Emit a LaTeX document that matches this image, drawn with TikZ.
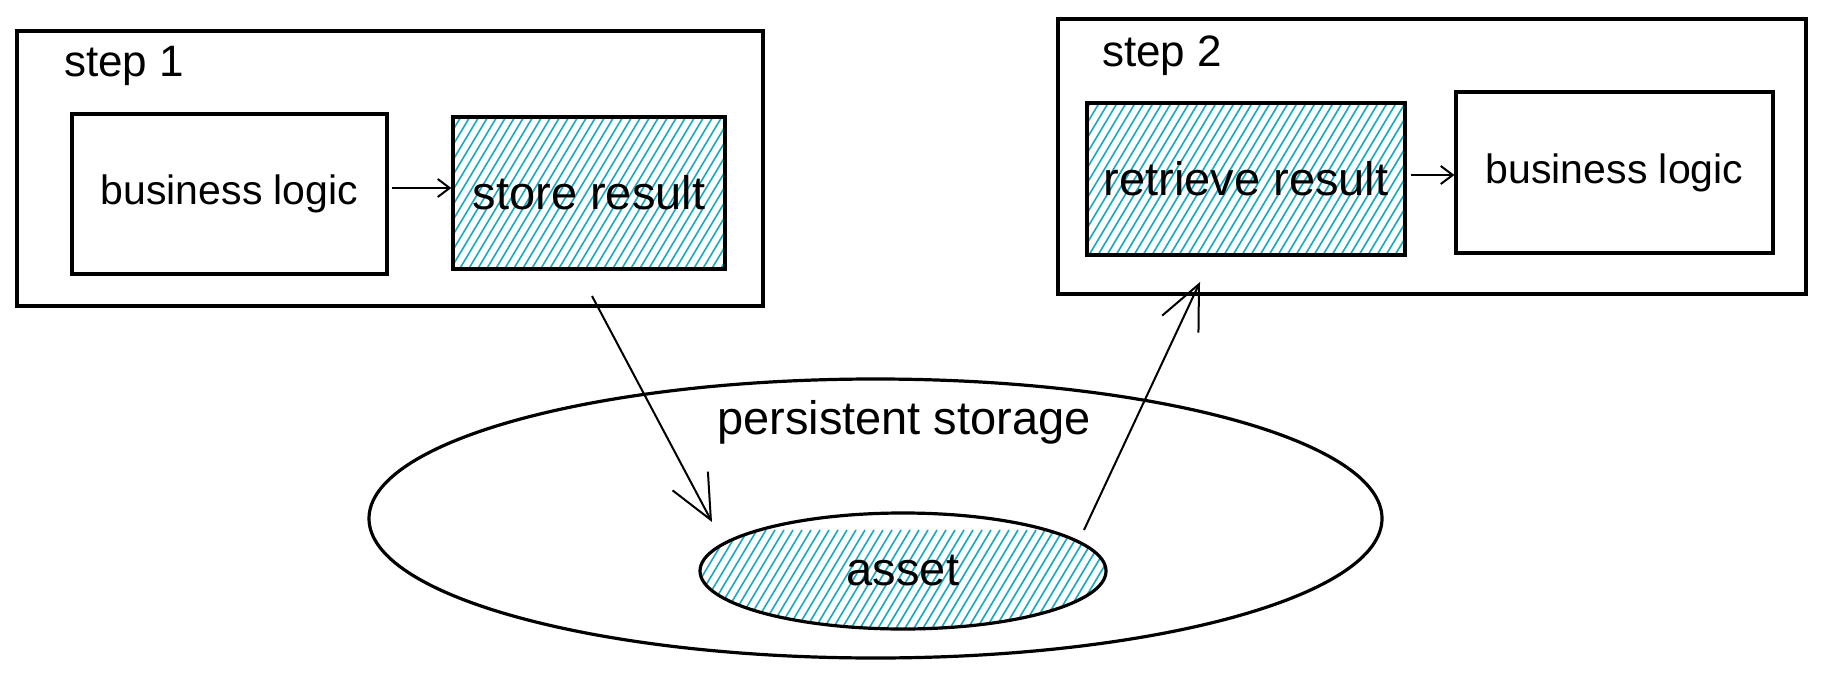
\documentclass[tikz,border=0pt]{standalone}
\usepackage{fontspec}
\setmainfont{Liberation Sans}
\usetikzlibrary{shapes.geometric,arrows.meta}
\definecolor{hatchcol}{HTML}{15AABF}
\tikzset{
  frame/.style={draw=black, line width=3.4pt, inner sep=0pt},
  box/.style={draw=black, line width=3.2pt, inner sep=0pt},
  oval/.style={draw=black, ellipse, line width=3.2pt, inner sep=0pt},
  hatch/.style={draw=hatchcol, line width=1.6pt},
  lbl/.style={inner sep=0pt, text=black},
  conn/.style={draw=black, line width=2pt},
  bigtip/.style={-{Straight Barb[length=44pt,width=40pt,line width=2pt]}},
  smalltip/.style={-{Straight Barb[length=12pt,width=18pt,line width=2pt]}},
}
\newcommand{\fs}[1]{\fontsize{#1}{#1}\selectfont}
\begin{document}
\begin{tikzpicture}[x=1pt,y=-1pt]
\useasboundingbox (0,0) rectangle (1827,679);
\fill[white] (0,0) rectangle (1827,679);

% hatching
\begin{scope}
  \clip (453,117) rectangle (725,269);
  \foreach \x in {0,9,...,900} \draw[hatch] (\x,300) -- ++(180,-300);
\end{scope}
\begin{scope}
  \clip (1087,103) rectangle (1405,255);
  \foreach \x in {900,909,...,1500} \draw[hatch] (\x,300) -- ++(180,-300);
\end{scope}
\begin{scope}
  \clip (903,571) ellipse [x radius=203pt, y radius=58pt];
  \foreach \x in {550,559,...,1150} \draw[hatch] (\x,680) -- ++(90,-150);
\end{scope}

% frames
\node[frame, minimum width=746pt, minimum height=275pt] (step1) at (390,168.5) {};
\node[frame, minimum width=748pt, minimum height=275pt] (step2) at (1432,156.5) {};
\node[lbl, anchor=west] (s1lbl) at (64,66) {\fs{44}step 1};
\node[lbl, anchor=west] (s2lbl) at (1102,56) {\fs{44}step 2};

% inner boxes
\node[box, minimum width=315pt, minimum height=160pt] (bl1) at (229.5,194) {\fs{41}business logic};
\node[box, minimum width=272pt, minimum height=152pt] (store) at (589,193) {\fs{47}store result};
\node[box, minimum width=318pt, minimum height=152pt] (retr) at (1246,179) {\fs{47}retrieve result};
\node[box, minimum width=317pt, minimum height=161pt] (bl2) at (1614.5,172.5) {\fs{41}business logic};

% storage
\node[oval, minimum width=1013pt, minimum height=279pt] (storage) at (875.5,518.5) {};
\node[lbl] (stlbl) at (904,422) {\fs{47}persistent storage};
\node[oval, minimum width=406pt, minimum height=116pt] (asset) at (903,571) {\fs{47}asset};

% connectors
\draw[conn, smalltip] (bl1.east) ++(3,-6) coordinate (a1s) (a1s) -- (store.west |- a1s);
\draw[conn, smalltip] (retr.east) ++(4,-4) coordinate (a2s) (a2s) -- (bl2.west |- a2s);

\coordinate (d1s) at (592,296);
\coordinate (d1e) at (712,522);
\coordinate (u1s) at (1084,530);
\coordinate (u1e) at (1200,282);
\draw[conn, bigtip] (d1s) -- (d1e);
\draw[conn, bigtip] (u1s) -- (u1e);
\end{tikzpicture}
\end{document}
